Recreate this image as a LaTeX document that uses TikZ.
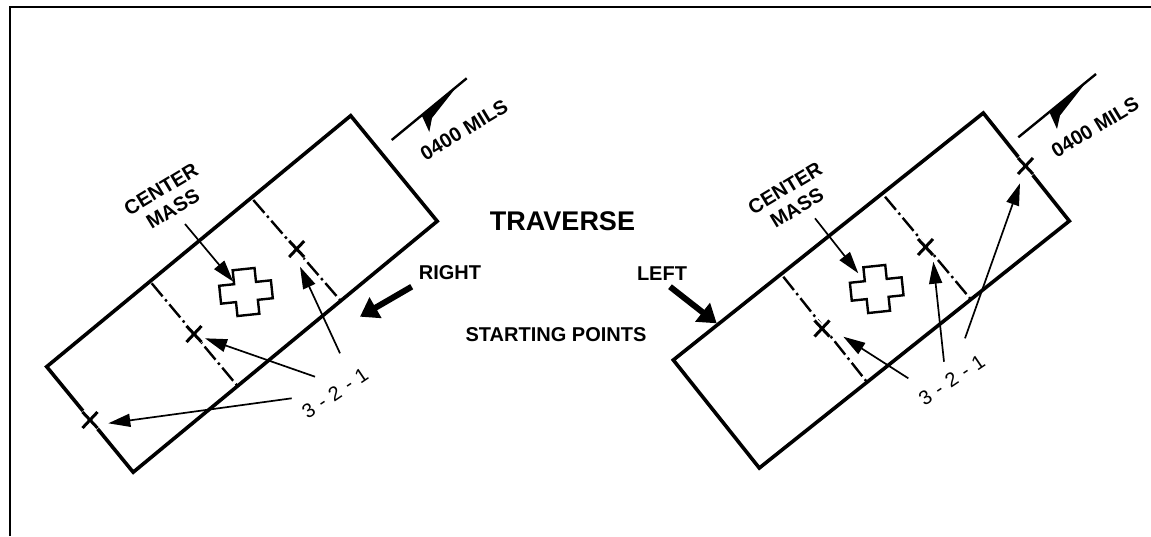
\documentclass[tikz,border=0pt]{standalone}
\usepackage{fontspec}
\setmainfont{Liberation Sans}
\usetikzlibrary{arrows.meta}
\begin{document}
\begin{tikzpicture}[x=1pt,y=-1pt,
  framelines/.style={line width=2.4pt},
  outline/.style={line width=3.6pt, line join=miter},
  divider/.style={line width=2.4pt, dash pattern=on 17pt off 4pt on 2.5pt off 4pt},
  ptr/.style={line width=1.7pt, -{Triangle[length=22pt,width=13pt]}},
  fatptr/.style={line width=6pt, -{Triangle[length=18pt,width=23pt]}},
  biglbl/.style={font=\bfseries\fontsize{27}{30}\selectfont, inner sep=0pt},
  lbl/.style={font=\bfseries\fontsize{20}{24}\selectfont, inner sep=0pt},
  rotlbl/.style={font=\bfseries\fontsize{20}{23}\selectfont, inner sep=0pt, align=center, rotate=31},
  numlbl/.style={font=\fontsize{20}{24}\selectfont, inner sep=0pt, rotate=34},
  crossshape/.style={line width=2.4pt, fill=white},
  xm/.pic={\draw[white,line width=7pt] (-8,-8)--(8,8) (-8,8)--(8,-8);
           \draw[line width=3pt] (-7.5,-8)--(7.5,8) (-7.5,8)--(7.5,-8);}
]
\newcommand{\dgap}{\hspace{7pt}}
\useasboundingbox (0,0) rectangle (1151,536);
% frame
\coordinate (fbl) at (9.7,536);
\coordinate (ftl) at (9.7,7.2);
\coordinate (ftr) at (1151,7.2);
\draw[framelines] (fbl) -- (ftl) -- (ftr);

% ================= LEFT DIAGRAM =================
\coordinate (La) at (46.7,366.7);
\coordinate (Lb) at (350.7,115.7);
\coordinate (Lc) at (437.2,221.2);
\coordinate (Ld) at (133.2,472.2);
\draw[outline] (La) -- (Lb) -- (Lc) -- (Ld) -- cycle;
\coordinate (Ld1a) at (151.7,283.3);
\coordinate (Ld1b) at (236.7,385);
\coordinate (Ld2a) at (253.3,200);
\coordinate (Ld2b) at (340,300);
\draw[divider] (Ld1a) -- (Ld1b);
\draw[divider] (Ld2a) -- (Ld2b);
\pic at (90,420) {xm};
\pic at (194,334) {xm};
\pic at (296.7,249) {xm};
\coordinate (Lx1) at (108.3,423.3);
\coordinate (Lx2) at (205,338.3);
\coordinate (Lx3) at (300,266.7);
% center mass cross
\begin{scope}[shift={(246,292)}, rotate=6]
\draw[crossshape] (-11,-23)--(11,-23)--(11,-9)--(26,-9)--(26,9)--(11,9)--(11,23)--(-11,23)--(-11,9)--(-26,9)--(-26,-9)--(-11,-9)--cycle;
\end{scope}
\node[rotlbl] (Lcm) at (167,199) {CENTER\\MASS};
\coordinate (Lcms) at (185,224);
\coordinate (Lcmt) at (233.3,281.7);
\draw[ptr] (Lcms) -- (Lcmt);
% 3-2-1
\node[numlbl] (Lnum) at (335,393.3) {3\dgap-\dgap2\dgap-\dgap1};
\coordinate (Ls1) at (291.7,398.3);
\coordinate (Ls2) at (315,376.7);
\coordinate (Ls3) at (340,353.3);
\draw[ptr] (Ls1) -- (Lx1);
\draw[ptr] (Ls2) -- (Lx2);
\draw[ptr] (Ls3) -- (Lx3);
% 0400 mils
\coordinate (Lm1) at (391.7,140);
\coordinate (Lm2) at (466.7,78.3);
\draw[line width=2.4pt] (Lm1) -- (Lm2);
\fill (421.7,115.3) -- (429.3,132) -- (432,118) -- (456.7,86.7) -- cycle;
\node[rotlbl] (Lmils) at (464,130) {0400 MILS};
% right label
\node[lbl] (right) at (450,272.5) {RIGHT};
\coordinate (Rfs) at (411.7,286.7);
\coordinate (Rft) at (360,316.7);
\draw[fatptr] (Rfs) -- (Rft);

% ================= CENTRE TEXTS =================
\node[biglbl] (trav) at (562.5,221.7) {TRAVERSE};
\node[lbl] (start) at (556,335) {STARTING POINTS};

% ================= RIGHT DIAGRAM =================
\coordinate (Ra) at (673.3,360);
\coordinate (Rb) at (983.3,113);
\coordinate (Rc) at (1069.3,221);
\coordinate (Rd) at (759.3,468);
\draw[outline] (Ra) -- (Rb) -- (Rc) -- (Rd) -- cycle;
\coordinate (Rd1a) at (783.3,276.7);
\coordinate (Rd1b) at (866.7,381.7);
\coordinate (Rd2a) at (885,196.7);
\coordinate (Rd2b) at (970,298.3);
\draw[divider] (Rd1a) -- (Rd1b);
\draw[divider] (Rd2a) -- (Rd2b);
\pic at (822,328.5) {xm};
\pic at (925.5,247) {xm};
\pic at (1025.5,166) {xm};
\coordinate (Rx1) at (843.3,336.7);
\coordinate (Rx2) at (933.3,261.7);
\coordinate (Rx3) at (1020,183.3);
\begin{scope}[shift={(876.7,289)}, rotate=6]
\draw[crossshape] (-11,-23)--(11,-23)--(11,-9)--(26,-9)--(26,9)--(11,9)--(11,23)--(-11,23)--(-11,9)--(-26,9)--(-26,-9)--(-11,-9)--cycle;
\end{scope}
\node[rotlbl] (Rcm) at (791,198) {CENTER\\MASS};
\coordinate (Rcms) at (815,218.3);
\coordinate (Rcmt) at (858.3,273.3);
\draw[ptr] (Rcms) -- (Rcmt);
\node[numlbl] (Rnum) at (951.7,380) {3\dgap-\dgap2\dgap-\dgap1};
\coordinate (Rs1) at (908.3,378.3);
\coordinate (Rs2) at (944,361.7);
\coordinate (Rs3) at (965,338.3);
\draw[ptr] (Rs1) -- (Rx1);
\draw[ptr] (Rs2) -- (Rx2);
\draw[ptr] (Rs3) -- (Rx3);
\coordinate (Rm1) at (1018.3,137.3);
\coordinate (Rm2) at (1096,74);
\draw[line width=2.4pt] (Rm1) -- (Rm2);
\fill (1049.7,112.8) -- (1057,129) -- (1060,115.5) -- (1085,83.5) -- cycle;
\node[rotlbl] (Rmils) at (1095,127.3) {0400 MILS};
\node[lbl] (left) at (662,273.3) {LEFT};
\coordinate (Lfs) at (670,286.7);
\coordinate (Lft) at (716.7,323.3);
\draw[fatptr] (Lfs) -- (Lft);
\end{tikzpicture}
\end{document}
